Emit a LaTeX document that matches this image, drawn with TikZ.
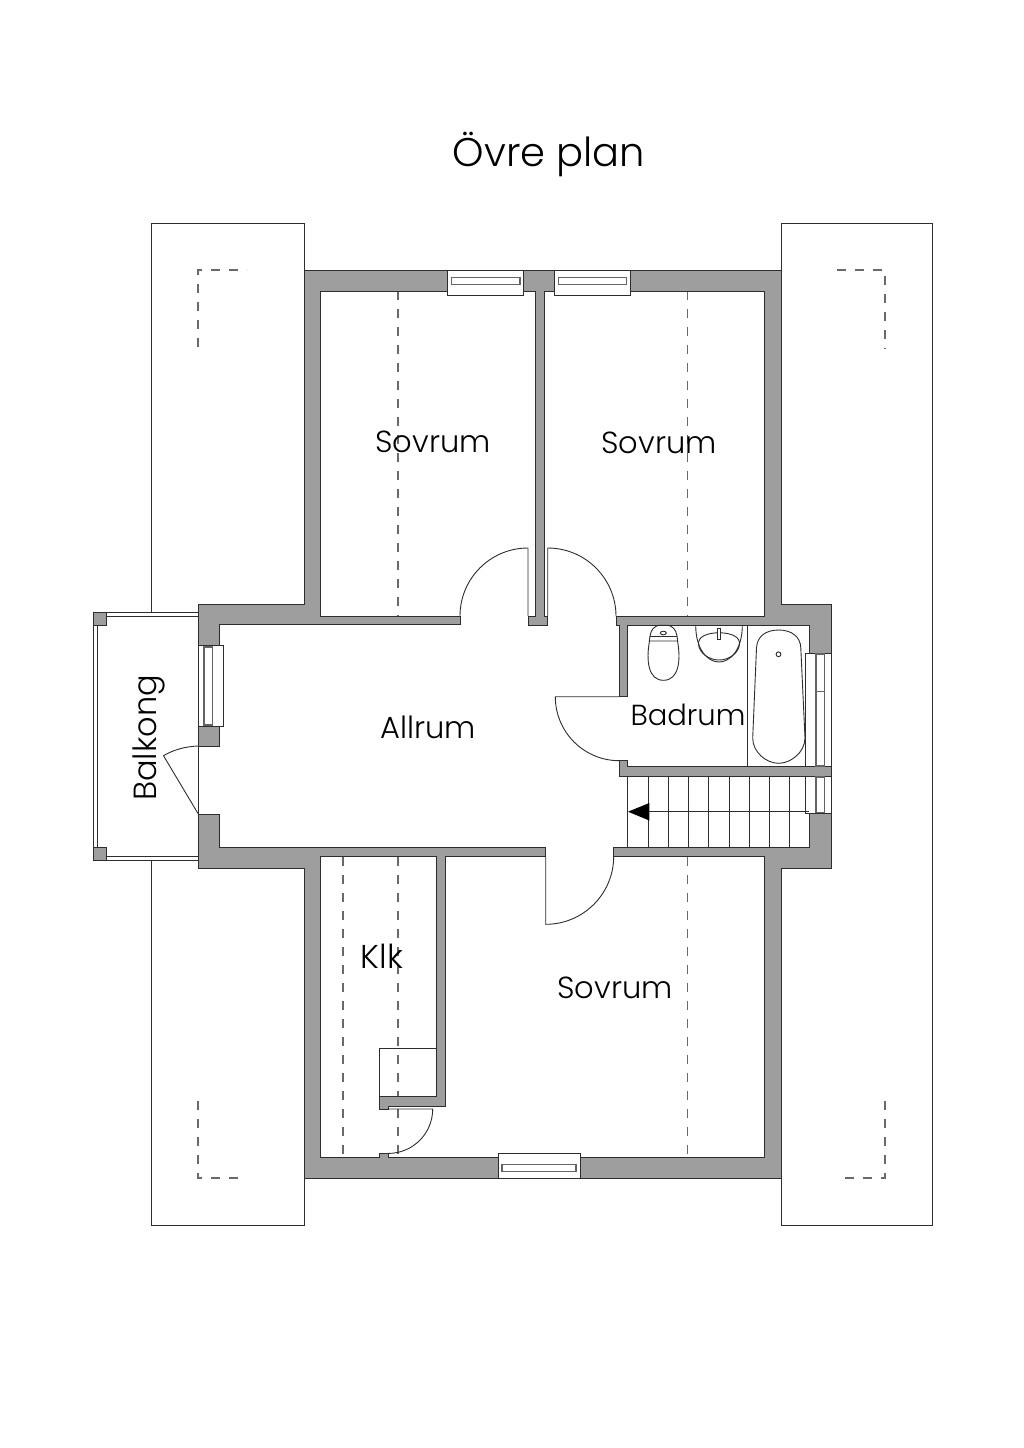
\documentclass[tikz,border=0pt]{standalone}
\usepackage{fontspec}
\setmainfont{Poppins Light}

\begin{document}
\begin{tikzpicture}[x=1pt, y=-1pt,
	wall/.style={fill=wallgray, draw=wallline, line width=1pt, even odd rule},
	thin line/.style={draw=wallline, line width=0.9pt},
	hidden/.style={draw=dashgray, line width=1.3pt, dash pattern=on 9pt off 9pt},
	pane/.style={fill=white, draw=wallline, line width=0.9pt},
	glass/.style={fill=white, draw=glassgray, line width=1.4pt},
	room/.style={font=\fontsize{30.5}{36}\selectfont, inner sep=0pt}]
	\definecolor{wallgray}{RGB}{158,158,158}
	\definecolor{wallline}{RGB}{45,45,45}
	\definecolor{dashgray}{RGB}{105,105,105}
	\definecolor{glassgray}{RGB}{100,100,100}

	\useasboundingbox (0, 0) rectangle (1024, 1448);

	% roof
	\draw[thin line] (151, 612) -- (151, 223) -- (304, 223) -- (304, 270);
	\draw[thin line] (151, 860) -- (151, 1225) -- (304, 1225) -- (304, 1178);
	\draw[thin line] (781, 270) -- (781, 223) -- (932, 223) -- (932, 1225) -- (781, 1225) -- (781, 1178);
	\draw[hidden] (198, 347) -- (198, 270) -- (247, 270);
	\draw[hidden] (837, 270) -- (885, 270) -- (885, 349);
	\draw[hidden] (198, 1101) -- (198, 1178) -- (240, 1178);
	\draw[hidden] (885, 1101) -- (885, 1178) -- (837, 1178);

	% balcony
	\draw[pane] (106, 612.7) rectangle (198, 616.7);
	\draw[pane] (106, 856) rectangle (198, 860);
	\draw[pane] (93.3, 625) rectangle (97.3, 848);
	\draw[wall] (93.3, 612.7) rectangle (106, 625);
	\draw[wall] (93.3, 847.7) rectangle (106, 860);

	% hidden lines in the rooms
	\draw[hidden] (398, 291) -- (398, 616);
	\draw[hidden] (687.5, 291) -- (687.5, 616);
	\draw[hidden] (687.5, 857) -- (687.5, 1157);
	\draw[hidden] (343, 857) -- (343, 1157);
	\draw[thin line] (379.7, 1048.3) rectangle (436.7, 1097);
	\draw[hidden] (398, 857) -- (398, 1157);

	% walls
	\draw[wall] (304, 270) -- (781, 270) -- (781, 604) -- (831, 604) -- (831, 868.7) -- (781, 868.7)
		-- (781, 1178.7) -- (304, 1178.7) -- (304, 868.7) -- (198, 868.7) -- (198, 604) -- (304, 604) -- cycle
		(219, 624.7) -- (460, 624.7) -- (460, 616.5) -- (320.5, 616.5) -- (320.5, 291)
		-- (535.7, 291) -- (535.7, 616) -- (528, 616) -- (528, 625.3) -- (547.7, 625.3) -- (547.7, 616)
		-- (544.7, 616) -- (544.7, 291) -- (764.3, 291) -- (764.3, 616.5) -- (616, 616.5) -- (616, 625.3)
		-- (619.3, 625.3) -- (619.3, 696.7) -- (627.7, 696.7) -- (627.7, 625.3) -- (809.3, 625.3)
		-- (809.3, 766.7) -- (627.7, 766.7) -- (627.7, 760.7) -- (619.3, 760.7) -- (619.3, 776)
		-- (809.3, 776) -- (809.3, 847.3) -- (613.3, 847.3) -- (613.3, 856.7) -- (764.3, 856.7)
		-- (764.3, 1157.3) -- (388.3, 1157.3) -- (388.3, 1153.3) -- (379.7, 1153.3) -- (379.7, 1157.3)
		-- (320.5, 1157.3) -- (320.5, 856.7) -- (436.7, 856.7) -- (436.7, 1096.7) -- (379.7, 1096.7)
		-- (379.7, 1109) -- (388.3, 1109) -- (388.3, 1106) -- (445.3, 1106) -- (445.3, 856.7)
		-- (545.7, 856.7) -- (545.7, 847.7) -- (219, 847.7) -- (219, 814) -- (198, 814) -- (198, 746)
		-- (219, 746) -- cycle;

	% windows
	\draw[pane] (447.3, 270) rectangle (523.3, 295.3);
	\draw[glass] (451.7, 277.3) rectangle (520, 284.7);
	\draw[pane] (554, 270) rectangle (630.7, 295.3);
	\draw[glass] (558.3, 277.3) rectangle (626.7, 284.7);
	\draw[pane] (498.3, 1153.3) rectangle (580.7, 1178.7);
	\draw[glass] (502, 1164.3) rectangle (576, 1171.7);
	\draw[pane] (198, 645.7) rectangle (223, 726);
	\draw[glass] (204, 647) rectangle (212.7, 725);
	\draw[pane] (805.3, 653.3) rectangle (831, 766);
	\draw[glass] (816, 654) rectangle (824.3, 691.7);
	\draw[glass] (816, 691.7) rectangle (824.3, 766);
	\draw[pane] (805.3, 776) rectangle (831, 813.3);
	\draw[glass] (816, 777) rectangle (824.3, 812.5);

	% doors
	\draw[thin line] (528, 616) -- (528, 548) arc (270:180:68);
	\draw[thin line] (547.7, 616) -- (547.7, 548) arc (270:360:68.3);
	\draw[thin line] (619.3, 696.7) -- (555.3, 696.7) arc (180:90:64);
	\draw[thin line] (545.7, 856.7) -- (545.7, 924.3) arc (90:0:68);
	\draw[thin line] (388.3, 1109) -- (432.7, 1109) arc (0:90:44.4);
	\draw[thin line] (198, 813.5) -- (163.5, 755.7) .. controls (173, 750) and (185, 746.5) .. (198, 746);

	% stairs
	\foreach \xstep in {627.7, 648.3, 668.3, 688.7, 708.7, 729, 749.3, 769.3, 789.7}
		\draw[thin line] (\xstep, 776) -- (\xstep, 847.3);
	\draw[thin line] (809.3, 811.7) -- (648, 811.7);
	\fill[black] (628, 811.7) -- (649.3, 803) -- (649.3, 820.5) -- cycle;

	% bathroom
	\draw[thin line] (747, 625.3) -- (747, 766.7);
	\draw[thin line] (778.7, 630) .. controls (765, 630) and (757, 637) .. (756.5, 648) -- (752.7, 738)
		.. controls (752.7, 752) and (766, 763.3) .. (778.7, 763.3)
		.. controls (791, 763.3) and (805, 752) .. (805, 738) -- (800.8, 648)
		.. controls (800.5, 637) and (792, 630) .. (778.7, 630) -- cycle;
	\draw[thin line] (778.5, 654.3) circle (2.4);
	\draw[thin line] (649.5, 641) .. controls (646, 660) and (648, 680.3) .. (663.5, 680.3)
		.. controls (679, 680.3) and (681, 660) .. (677.5, 641);
	\draw[thin line] (650, 636) .. controls (651, 629) and (655, 626) .. (659, 625.3) -- (668, 625.3)
		.. controls (672, 626) and (676, 629) .. (677, 636) -- (677.7, 641) -- (649.3, 641) -- cycle;
	\draw[thin line] (650, 636) -- (677, 636);
	\draw[thin line] (663.3, 633) ellipse (3 and 1.8);
	\draw[thin line] (695.7, 625.3) .. controls (695.7, 650) and (708, 662) .. (719, 662)
		.. controls (730, 662) and (742.3, 650) .. (742.3, 625.3);
	\draw[thin line] (698.5, 644) .. controls (698, 637) and (706, 633) .. (719, 632.7)
		.. controls (732, 633) and (740, 637) .. (739.5, 644)
		.. controls (739, 653) and (729, 660) .. (719, 660)
		.. controls (709, 660) and (699, 653) .. (698.5, 644) -- cycle;
	\draw[pane] (717.5, 628.5) rectangle (720.5, 639);

	% labels
	\node[font=\fontsize{40}{48}\selectfont, inner sep=0pt] (title) at (549, 154) {Övre plan};
	\node[room] (sovrumleft) at (433, 442) {Sovrum};
	\node[room] (sovrumright) at (659, 443) {Sovrum};
	\node[room] (sovrumsouth) at (615, 988) {Sovrum};
	\node[room] (allrum) at (428, 727) {Allrum};
	\node[room, font=\fontsize{29}{36}\selectfont] (badrum) at (688, 715) {Badrum};
	\node[room, font=\fontsize{33}{36}\selectfont] (klk) at (382, 956) {Klk};
	\node[room, rotate=90, font=\fontsize{32}{36}\selectfont] (balkong) at (149, 738) {Balkong};
\end{tikzpicture}
\end{document}
